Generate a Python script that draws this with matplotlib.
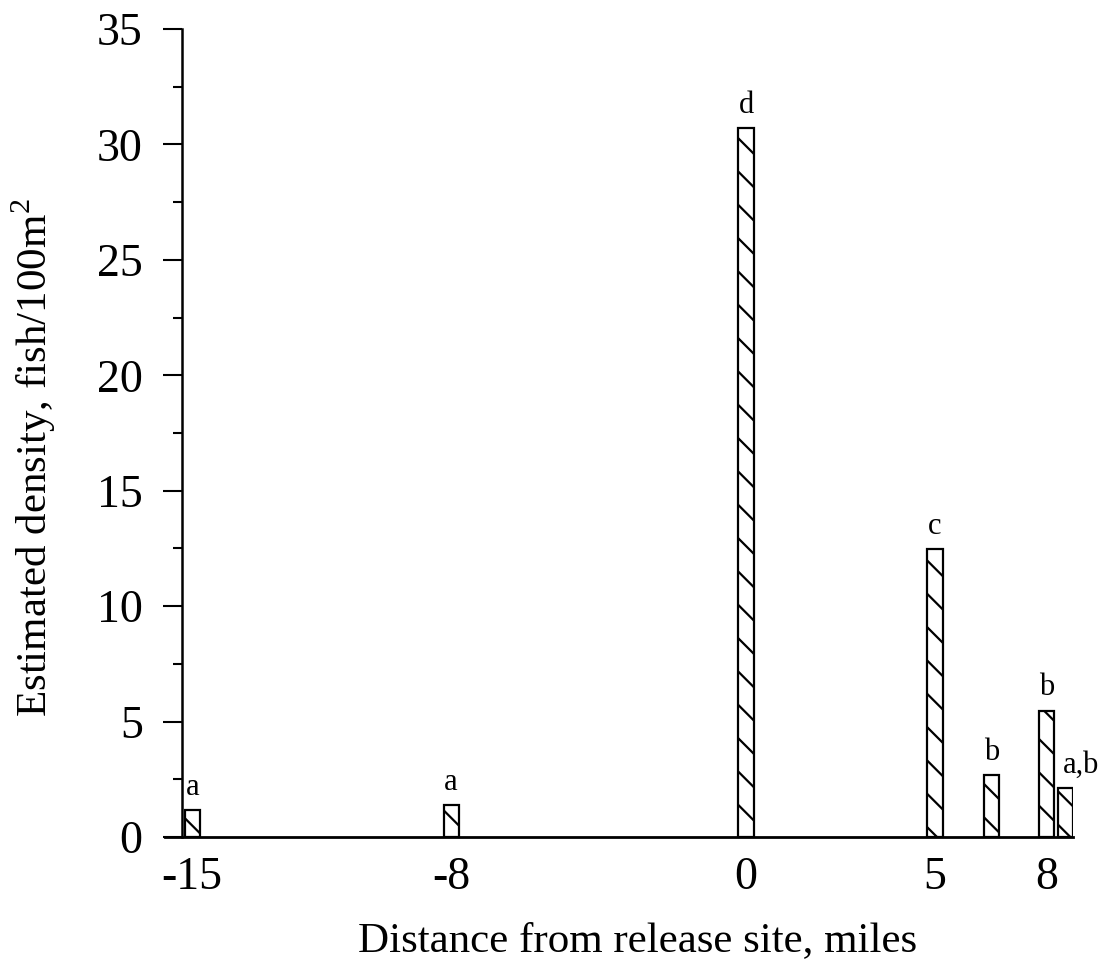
import matplotlib.pyplot as plt
from matplotlib.ticker import MultipleLocator

plt.rcParams["font.family"] = ["Liberation Serif", "DejaVu Serif"]
plt.rcParams["mathtext.fontset"] = "custom"
plt.rcParams["mathtext.rm"] = "Liberation Serif"
plt.rcParams["hatch.linewidth"] = 1.6

# bar positions along the (hand-drawn, not quite linear) distance axis
x_pos = [-14.65, -7.8, 0.0, 5.0, 6.5, 7.95, 8.45]
density = [1.17, 1.39, 30.7, 12.46, 2.69, 5.47, 2.13]
groups = ["a", "a", "d", "c", "b", "b", "a,b"]

tick_pos = [-14.65, -7.8, 0.0, 5.0, 7.95]
tick_labels = ["-15", "-8", "0", "5", "8"]


def main():
    fig = plt.figure(figsize=(11.08, 9.66), dpi=100)
    ax = fig.add_axes([165 / 1108, 1 - 837 / 966, (1073 - 165) / 1108, (837 - 29) / 966])

    ax.bar(x_pos, density, width=0.4, color="white", edgecolor="black",
           linewidth=1.6, hatch="\\", zorder=2)
    for x, y, g in zip(x_pos, density, groups):
        ax.annotate(g, (x, y), xytext=(0 if g != "a,b" else 11, 6),
                    textcoords="offset points", ha="center", va="bottom",
                    fontsize=22)

    ax.set_xlim(-15.37, 8.65)
    ax.set_ylim(0, 35)

    ax.spines["top"].set_visible(False)
    ax.spines["right"].set_visible(False)
    ax.spines["left"].set_position(("data", -14.93))
    ax.spines["left"].set_linewidth(1.8)
    ax.spines["bottom"].set_linewidth(2.0)

    ax.yaxis.set_major_locator(MultipleLocator(5))
    ax.yaxis.set_minor_locator(MultipleLocator(2.5))
    ax.tick_params(axis="y", which="major", direction="out", length=14,
                   width=1.5, labelsize=33, pad=14)
    ax.tick_params(axis="y", which="minor", direction="out", length=6.5, width=1.5)

    ax.set_xticks(tick_pos)
    ax.set_xticklabels(tick_labels)
    ax.tick_params(axis="x", length=0, labelsize=33, pad=14)

    ax.set_xlabel("Distance from release site, miles", fontsize=31)
    ax.set_ylabel("Estimated density, fish/100m$^{2}$", fontsize=31)
    ax.yaxis.set_label_coords(-0.118, 0.47)
    ax.xaxis.set_label_coords(0.52, -0.105)

    fig.savefig("out.png", dpi=100)
    plt.close(fig)


if __name__ == "__main__":
    main()
